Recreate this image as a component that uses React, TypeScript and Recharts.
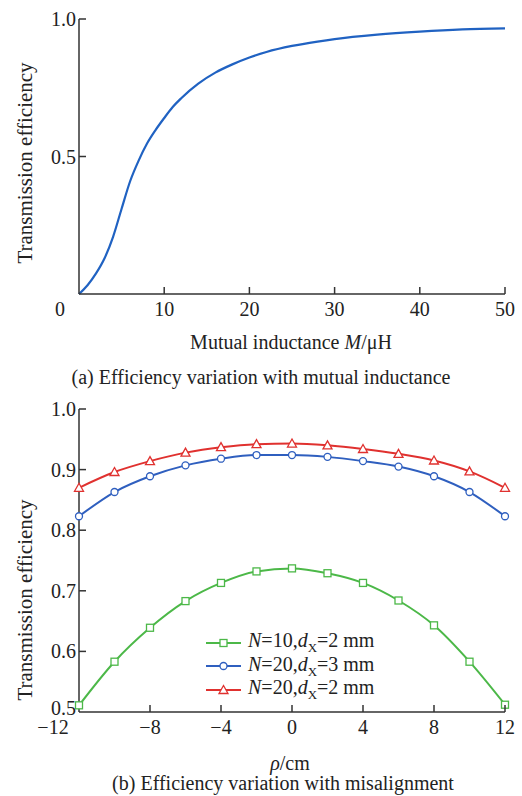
import React from "react";
import { LineChart, Line, XAxis, YAxis } from "recharts";

// (a) efficiency vs mutual inductance
const inductance = [0, 1, 2, 3, 4, 5, 6, 7, 8, 9, 10, 11, 12, 14, 16, 18, 20, 22, 25, 28, 30, 35, 40, 45, 50];
const efficiencyA = [0, 0.032, 0.075, 0.13, 0.208, 0.31, 0.41, 0.485, 0.548, 0.597, 0.64, 0.68, 0.712, 0.765, 0.805, 0.835, 0.86, 0.88, 0.902, 0.918, 0.927, 0.943, 0.954, 0.962, 0.966];
const ticksAX = [0, 10, 20, 30, 40, 50];
const ticksAY = [0.5, 1.0];

// (b) efficiency vs misalignment
const rho = [-12, -10, -8, -6, -4, -2, 0, 2, 4, 6, 8, 10, 12];
const n10d2 = [0.511, 0.583, 0.639, 0.683, 0.713, 0.732, 0.737, 0.729, 0.713, 0.684, 0.643, 0.583, 0.512];
const n20d3 = [0.823, 0.863, 0.889, 0.907, 0.918, 0.924, 0.924, 0.921, 0.914, 0.905, 0.889, 0.863, 0.823];
const n20d2 = [0.87, 0.896, 0.914, 0.928, 0.937, 0.942, 0.943, 0.94, 0.934, 0.926, 0.915, 0.897, 0.87];
const ticksBX = [-12, -8, -4, 0, 4, 8, 12];
const ticksBY = [0.5, 0.6, 0.7, 0.8, 0.9, 1.0];

const dataA = inductance.map((m, i) => ({ m, eff: efficiencyA[i] }));
const dataB = rho.map((r, i) => ({ r, a: n10d2[i], b: n20d3[i], c: n20d2[i] }));

const FONT = '"Liberation Serif", "Times New Roman", serif';
const AXIS = "#333";
const GREEN = "#4cb848";
const BLUE = "#2f5fbf";
const RED = "#e0312f";

const fmtNum = (v: number) => (v < 0 ? "\u2212" + Math.abs(v) : String(v));

const XTick = (firstShift: number) => (p: any) => {
    const { x, y, payload, index } = p;
    return (
        <g>
            {index > 0 && <line x1={x} y1={y} x2={x} y2={y - 7} stroke={AXIS} strokeWidth={1.5} />}
            <text x={index === 0 ? x + firstShift : x} y={y + 22} textAnchor="middle" fontFamily={FONT} fontSize={20} fill="#222">
                {fmtNum(payload.value)}
            </text>
        </g>
    );
};

const YTick = (bottomShift: number) => (p: any) => {
    const { x, y, payload, index } = p;
    return (
        <g>
            {index > 0 || bottomShift === 0 ? <line x1={x} y1={y} x2={x + 7} y2={y} stroke={AXIS} strokeWidth={1.5} /> : null}
            <text x={x - 3} y={(index === 0 ? y + bottomShift : y) + 7} textAnchor="end" fontFamily={FONT} fontSize={20} fill="#222">
                {payload.value.toFixed(1)}
            </text>
        </g>
    );
};

const square = (color: string) => (p: any) => (
    <rect key={p.index} x={p.cx - 3.5} y={p.cy - 3.5} width={7} height={7} fill="#fff" stroke={color} strokeWidth={1.3} />
);
const triangle = (color: string) => (p: any) => (
    <path key={p.index} d={`M${p.cx},${p.cy - 4.5} L${p.cx + 4.5},${p.cy + 3.5} L${p.cx - 4.5},${p.cy + 3.5} Z`} fill="#fff" stroke={color} strokeWidth={1.3} />
);

const legendRows = [
    { color: GREEN, marker: "square", n: "10", d: "2" },
    { color: BLUE, marker: "circle", n: "20", d: "3" },
    { color: RED, marker: "triangle", n: "20", d: "2" },
];

const LegendBox = () => (
    <div style={{ position: "absolute", left: 205, top: 631, fontFamily: FONT, fontSize: 20, color: "#222", whiteSpace: "nowrap" }}>
        {legendRows.map((r) => (
            <div key={r.n + r.d + r.marker} style={{ display: "flex", alignItems: "center", height: 23.5 }}>
                <svg width={40} height={12} style={{ marginRight: 3 }}>
                    <line x1={1} y1={6} x2={36} y2={6} stroke={r.color} strokeWidth={2} />
                    {r.marker === "square" && <rect x={15} y={2.5} width={7} height={7} fill="#fff" stroke={r.color} strokeWidth={1.3} />}
                    {r.marker === "circle" && <circle cx={18.5} cy={6} r={3.5} fill="#fff" stroke={r.color} strokeWidth={1.3} />}
                    {r.marker === "triangle" && <path d="M18.5,1.5 L23,9.5 L14,9.5 Z" fill="#fff" stroke={r.color} strokeWidth={1.3} />}
                </svg>
                <span>
                    <i>N</i>={r.n},<i>d</i>
                    <sub style={{ fontSize: 13 }}>X</sub>={r.d} mm
                </span>
            </div>
        ))}
    </div>
);

const text = (style: React.CSSProperties, children: React.ReactNode) => (
    <div style={{ position: "absolute", fontFamily: FONT, fontSize: 20, color: "#222", whiteSpace: "nowrap", ...style }}>{children}</div>
);

export default function App() {
    return (
        <div style={{ position: "absolute", left: 0, top: 0, width: 522, height: 796, background: "#fff" }}>
            <div style={{ position: "absolute", left: 0, top: 0 }}>
                <LineChart width={522} height={330} data={dataA} margin={{ top: 19, right: 17, left: 0, bottom: 0 }}>
                    <XAxis
                        dataKey="m"
                        type="number"
                        domain={[0, 50]}
                        ticks={ticksAX}
                        height={36}
                        tickSize={0}
                        tickMargin={0}
                        tickLine={false}
                        axisLine={{ stroke: AXIS, strokeWidth: 1.5 }}
                        tick={XTick(-19)}
                    />
                    <YAxis
                        type="number"
                        domain={[0, 1]}
                        ticks={ticksAY}
                        width={79}
                        tickSize={0}
                        tickMargin={0}
                        tickLine={false}
                        axisLine={{ stroke: AXIS, strokeWidth: 1.5 }}
                        tick={YTick(0)}
                    />
                    <Line type="monotone" dataKey="eff" stroke="#2062c2" strokeWidth={2.2} dot={false} isAnimationActive={false} />
                </LineChart>
            </div>
            {text({ left: 291, top: 342, transform: "translate(-50%, -50%)" }, <>Mutual inductance <i>M</i>/μH</>)}
            {text({ left: 261, top: 377, transform: "translate(-50%, -50%)" }, "(a) Efficiency variation with mutual inductance")}
            {text({ left: 25, top: 163, fontSize: 21, transform: "translate(-50%, -50%) rotate(-90deg)" }, "Transmission efficiency")}

            <div style={{ position: "absolute", left: 0, top: 390 }}>
                <LineChart width={522} height={358} data={dataB} margin={{ top: 19, right: 17, left: 0, bottom: 0 }}>
                    <XAxis
                        dataKey="r"
                        type="number"
                        domain={[-12, 12]}
                        ticks={ticksBX}
                        height={36}
                        tickSize={0}
                        tickMargin={0}
                        tickLine={false}
                        axisLine={{ stroke: AXIS, strokeWidth: 1.5 }}
                        tick={XTick(-26)}
                    />
                    <YAxis
                        type="number"
                        domain={[0.5, 1]}
                        ticks={ticksBY}
                        width={79}
                        tickSize={0}
                        tickMargin={0}
                        tickLine={false}
                        axisLine={{ stroke: AXIS, strokeWidth: 1.5 }}
                        tick={YTick(-4)}
                    />
                    <Line type="monotone" dataKey="a" stroke={GREEN} strokeWidth={2} dot={square(GREEN)} isAnimationActive={false} />
                    <Line type="monotone" dataKey="b" stroke={BLUE} strokeWidth={2} dot={{ r: 3.5, fill: "#fff", stroke: BLUE, strokeWidth: 1.3 }} isAnimationActive={false} />
                    <Line type="monotone" dataKey="c" stroke={RED} strokeWidth={2} dot={triangle(RED)} isAnimationActive={false} />
                </LineChart>
            </div>
            <LegendBox />
            {text({ left: 290, top: 763, transform: "translate(-50%, -50%)" }, <><i>ρ</i>/cm</>)}
            {text({ left: 283, top: 783, transform: "translate(-50%, -50%)" }, "(b) Efficiency variation with misalignment")}
            {text({ left: 25, top: 600, fontSize: 21, transform: "translate(-50%, -50%) rotate(-90deg)" }, "Transmission efficiency")}
        </div>
    );
}
